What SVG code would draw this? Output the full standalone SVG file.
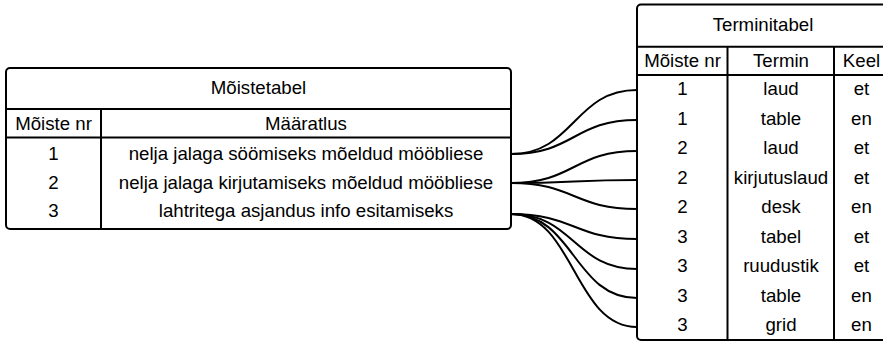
<svg xmlns="http://www.w3.org/2000/svg" width="883" height="342" viewBox="0 0 883 342">
<style>
.box{fill:#fff;stroke:#000;stroke-width:2}
.ln{stroke:#000;stroke-width:2;fill:none}
.t{font-family:"Liberation Sans",Arial,sans-serif;font-size:18.67px;fill:#000;text-anchor:middle}
.c{fill:none;stroke:#000;stroke-width:2}
</style>
<g id="connectors">
<path class="c" d="M511,154 C574,154 574,90 637,90"/>
<path class="c" d="M511,154 C574,154 574,120 637,120"/>
<path class="c" d="M511,183 C574,183 574,151 637,151"/>
<path class="c" d="M511,183 C574,183 574,180 637,180"/>
<path class="c" d="M511,183 C574,183 574,209 637,209"/>
<path class="c" d="M511,214 C574,214 574,239 637,239"/>
<path class="c" d="M511,214 C574,214 574,269 637,269"/>
<path class="c" d="M511,214 C574,214 574,298 637,298"/>
<path class="c" d="M511,214 C574,214 574,327 637,327"/>
</g>
<g id="moistetabel">
<rect class="box" x="6" y="68" width="505" height="161" rx="4"/>
<line class="ln" x1="6" y1="109" x2="511" y2="109"/>
<line class="ln" x1="6" y1="137.5" x2="511" y2="137.5"/>
<line class="ln" x1="101" y1="109" x2="101" y2="229"/>
<text class="t" x="258.5" y="93.5">Mõistetabel</text>
<text class="t" x="53.5" y="129.5">Mõiste nr</text>
<text class="t" x="306" y="129.5">Määratlus</text>
<text class="t" x="53.5" y="160">1</text>
<text class="t" x="306" y="160">nelja jalaga söömiseks mõeldud mööbliese</text>
<text class="t" x="53.5" y="189">2</text>
<text class="t" x="306" y="189">nelja jalaga kirjutamiseks mõeldud mööbliese</text>
<text class="t" x="53.5" y="217">3</text>
<text class="t" x="306" y="217">lahtritega asjandus info esitamiseks</text>
</g>
<g id="terminitabel">
<rect class="box" x="637" y="4.5" width="252" height="335.5" rx="4"/>
<line class="ln" x1="637" y1="46.7" x2="889" y2="46.7"/>
<line class="ln" x1="637" y1="75" x2="889" y2="75"/>
<line class="ln" x1="727.5" y1="46.7" x2="727.5" y2="340"/>
<line class="ln" x1="834" y1="46.7" x2="834" y2="340"/>
<text class="t" x="763" y="31">Terminitabel</text>
<text class="t" x="682.5" y="67">Mõiste nr</text>
<text class="t" x="781" y="67">Termin</text>
<text class="t" x="861.5" y="67">Keel</text>
<text class="t" x="682.5" y="95">1</text><text class="t" x="781" y="95">laud</text><text class="t" x="861.5" y="95">et</text>
<text class="t" x="682.5" y="124.5">1</text><text class="t" x="781" y="124.5">table</text><text class="t" x="861.5" y="124.5">en</text>
<text class="t" x="682.5" y="154">2</text><text class="t" x="781" y="154">laud</text><text class="t" x="861.5" y="154">et</text>
<text class="t" x="682.5" y="183.5">2</text><text class="t" x="781" y="183.5">kirjutuslaud</text><text class="t" x="861.5" y="183.5">et</text>
<text class="t" x="682.5" y="213">2</text><text class="t" x="781" y="213">desk</text><text class="t" x="861.5" y="213">en</text>
<text class="t" x="682.5" y="242.5">3</text><text class="t" x="781" y="242.5">tabel</text><text class="t" x="861.5" y="242.5">et</text>
<text class="t" x="682.5" y="272">3</text><text class="t" x="781" y="272">ruudustik</text><text class="t" x="861.5" y="272">et</text>
<text class="t" x="682.5" y="301.5">3</text><text class="t" x="781" y="301.5">table</text><text class="t" x="861.5" y="301.5">en</text>
<text class="t" x="682.5" y="331">3</text><text class="t" x="781" y="331">grid</text><text class="t" x="861.5" y="331">en</text>
</g>
</svg>
